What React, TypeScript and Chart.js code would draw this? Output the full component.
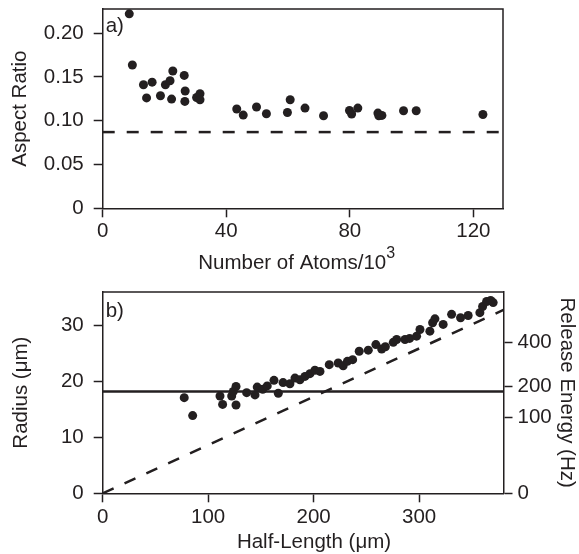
import React, { useEffect, useRef } from 'react';
import { Chart, registerables } from 'chart.js';

Chart.register(...registerables);

// ---------- data: panel a ----------
const atomsX = [8.6, 9.6, 13.2, 16.0, 14.2, 18.7, 20.3, 21.8, 22.7, 22.3, 26.4, 26.7, 26.6, 30.4, 31.5, 31.5, 43.4, 45.5, 49.8, 53.0, 59.8, 60.7, 65.5, 71.5, 79.9, 80.6, 82.6, 89.1, 90.4, 89.4, 97.4, 101.5, 123.1];
const aspectY = [0.222, 0.1636, 0.141, 0.144, 0.126, 0.1285, 0.141, 0.1456, 0.1567, 0.1247, 0.1517, 0.1339, 0.122, 0.1265, 0.1308, 0.1239, 0.1133, 0.1064, 0.1156, 0.1079, 0.1094, 0.1239, 0.1144, 0.1056, 0.1117, 0.1076, 0.1144, 0.1087, 0.106, 0.1056, 0.1113, 0.1113, 0.1071];
const aspectLimit = 0.087;
const atomsRange = [0, 129.6];
const aspectRange = [0, 0.2275];
const atomsTicks = [0, 40, 80, 120];
const aspectTicks = [0, 0.05, 0.1, 0.15, 0.2];

// ---------- data: panel b ----------
const halfLength = [77.3, 85.3, 111.2, 113.7, 122.3, 123.8, 126.4, 126.4, 136.5, 144.4, 146.5, 151.7, 156, 162.4, 166.5, 171, 177.5, 182.3, 187, 191.8, 196.5, 201.2, 206, 214.8, 223.3, 228, 232, 237, 243.2, 251.8, 259, 264.5, 268, 275.5, 278.7, 286.6, 291, 297.6, 300.8, 310.2, 312.8, 315, 322.8, 330.8, 339.3, 346.5, 357.6, 360.2, 364, 367.8, 370.2];
const radius = [17.1, 13.9, 17.4, 15.9, 17.4, 18.2, 19.1, 15.8, 18.0, 17.6, 19.0, 18.6, 19.2, 20.2, 17.9, 19.8, 19.6, 20.6, 20.3, 20.9, 21.4, 22.0, 21.8, 23.0, 23.3, 22.8, 23.6, 23.9, 25.4, 25.6, 26.6, 25.8, 26.2, 27.0, 27.5, 27.5, 27.7, 28.1, 29.3, 29.0, 30.5, 31.2, 30.2, 32.0, 31.4, 31.8, 32.3, 33.4, 34.3, 34.5, 34.1];
const solidRadius = 18.2;
const dashedLineX = [0, 380];
const dashedLineY = [0, 32.8];
const lengthRange = [0, 380];
const radiusRange = [0, 36];
const lengthTicks = [0, 100, 200, 300];
const radiusTicks = [0, 10, 20, 30];
const energyTicks = [0, 100, 200, 400];
const energyToRadius = 1.35; // radius = k * sqrt(energy)

const INK = '#231f20';
const FAMILY = '"Liberation Sans", Arial, sans-serif';
const SIZE = 20.5;

Chart.defaults.font.family = FAMILY;
Chart.defaults.font.size = SIZE;
Chart.defaults.color = INK;

function axisBase(extra: any) {
  return {
    type: 'linear',
    grid: { display: true, drawOnChartArea: false, drawTicks: true, tickLength: 9, tickWidth: 1.5, tickColor: INK, color: INK },
    border: { display: true, color: INK, width: 1.5 },
    ...extra,
  };
}

// frame edges, panel label and a bottom axis title (with optional superscript)
function decorPlugin(label: string, dy: number, drawRight: boolean, title: string, sup: string, centerX: number, baseline: number) {
  return {
    id: 'decor_' + label,
    afterDraw(chart: any) {
      const { ctx, chartArea: a } = chart;
      ctx.save();
      ctx.strokeStyle = INK;
      ctx.lineWidth = 1.5;
      ctx.beginPath();
      ctx.moveTo(a.left, a.top);
      ctx.lineTo(a.right, a.top);
      if (drawRight) ctx.lineTo(a.right, a.bottom);
      ctx.stroke();
      ctx.fillStyle = INK;
      ctx.font = `${SIZE}px ${FAMILY}`;
      ctx.textBaseline = 'alphabetic';
      ctx.textAlign = 'left';
      ctx.fillText(label, a.left + 3, a.top + dy);
      // axis title
      const mainW = ctx.measureText(title).width;
      const supFont = `16px ${FAMILY}`;
      ctx.font = supFont;
      const supW = sup ? ctx.measureText(sup).width : 0;
      const left = centerX - (mainW + supW) / 2;
      ctx.font = `${SIZE}px ${FAMILY}`;
      ctx.fillText(title, left, baseline);
      if (sup) {
        ctx.font = supFont;
        ctx.fillText(sup, left + mainW, baseline - 11);
      }
      ctx.restore();
    },
  };
}

function zeroPad(s: any) {
  s.paddingLeft = 0;
  s.paddingRight = 0;
  s.paddingTop = 0;
  s.paddingBottom = 0;
}

export default function App() {
  const topRef = useRef<HTMLCanvasElement>(null);
  const botRef = useRef<HTMLCanvasElement>(null);

  useEffect(() => {
    const top = new Chart(topRef.current as HTMLCanvasElement, {
      type: 'scatter',
      data: {
        datasets: [
          {
            data: atomsX.map((x, i) => ({ x, y: aspectY[i] })),
            pointRadius: 4.5,
            pointHoverRadius: 4.5,
            backgroundColor: INK,
            borderWidth: 0,
          },
          {
            data: atomsRange.map((x) => ({ x, y: aspectLimit })),
            showLine: true,
            borderColor: INK,
            borderWidth: 2.5,
            borderDash: [12, 12],
            pointRadius: 0,
          },
        ],
      },
      options: {
        animation: false,
        responsive: false,
        events: [],
        layout: { padding: { top: 9, right: 76, bottom: 0, left: 0 } },
        plugins: { legend: { display: false }, tooltip: { enabled: false } },
        scales: {
          x: axisBase({
            position: 'bottom',
            min: atomsRange[0],
            max: atomsRange[1],
            afterBuildTicks: (s: any) => { s.ticks = atomsTicks.map((v) => ({ value: v })); },
            ticks: { padding: 1.5, color: INK, maxRotation: 0, autoSkip: false, callback: (v: any) => String(v) },
            title: { display: false },
            afterFit: (s: any) => { s.height = 71.7; zeroPad(s); },
          }),
          y: axisBase({
            position: 'left',
            min: aspectRange[0],
            max: aspectRange[1],
            afterBuildTicks: (s: any) => { s.ticks = aspectTicks.map((v) => ({ value: v })); },
            ticks: { padding: 10, color: INK, autoSkip: false, callback: (v: any) => (v === 0 ? '0' : Number(v).toFixed(2)) },
            title: { display: true, text: 'Aspect Ratio', color: INK, padding: { top: 8.5, bottom: 0 } },
            afterFit: (s: any) => { s.width = 102.7; zeroPad(s); },
          }),
        },
      },
      plugins: [decorPlugin('a)', 22.5, true, 'Number of Atoms/10', '3', 296.7, 269)],
    } as any);

    const bot = new Chart(botRef.current as HTMLCanvasElement, {
      type: 'scatter',
      data: {
        datasets: [
          {
            data: halfLength.map((x, i) => ({ x, y: radius[i] })),
            pointRadius: 4.5,
            pointHoverRadius: 4.5,
            backgroundColor: INK,
            borderWidth: 0,
          },
          {
            data: lengthRange.map((x) => ({ x, y: solidRadius })),
            showLine: true,
            borderColor: INK,
            borderWidth: 2.5,
            pointRadius: 0,
          },
          {
            data: dashedLineX.map((x, i) => ({ x, y: dashedLineY[i] })),
            showLine: true,
            borderColor: INK,
            borderWidth: 2.5,
            borderDash: [12, 12],
            pointRadius: 0,
          },
        ],
      },
      options: {
        animation: false,
        responsive: false,
        events: [],
        layout: { padding: { top: 12, right: 0, bottom: 0, left: 0 } },
        plugins: { legend: { display: false }, tooltip: { enabled: false } },
        scales: {
          x: axisBase({
            position: 'bottom',
            min: lengthRange[0],
            max: lengthRange[1],
            afterBuildTicks: (s: any) => { s.ticks = lengthTicks.map((v) => ({ value: v })); },
            ticks: { padding: 3, color: INK, maxRotation: 0, autoSkip: false, callback: (v: any) => String(v) },
            title: { display: false },
            afterFit: (s: any) => { s.height = 60.7; zeroPad(s); },
          }),
          y: axisBase({
            position: 'left',
            min: radiusRange[0],
            max: radiusRange[1],
            afterBuildTicks: (s: any) => { s.ticks = radiusTicks.map((v) => ({ value: v })); },
            ticks: { padding: 10, color: INK, autoSkip: false, callback: (v: any) => String(v) },
            title: { display: true, text: 'Radius (μm)', color: INK, padding: { top: 9, bottom: 0 } },
            afterFit: (s: any) => { s.width = 102.7; zeroPad(s); },
          }),
          y2: axisBase({
            position: 'right',
            min: radiusRange[0],
            max: radiusRange[1],
            afterBuildTicks: (s: any) => { s.ticks = energyTicks.map((e) => ({ value: energyToRadius * Math.sqrt(e) })); },
            ticks: { padding: 5, color: INK, autoSkip: false, callback: (_v: any, i: number) => String(energyTicks[i]) },
            title: { display: true, text: 'Release Energy (Hz)', color: INK, padding: { top: 0, bottom: 0 } },
            afterFit: (s: any) => { s.width = 75.5; zeroPad(s); },
          }),
        },
      },
      plugins: [decorPlugin('b)', 25, false, 'Half-Length (μm)', '', 314, 268.3)],
    } as any);

    return () => {
      top.destroy();
      bot.destroy();
    };
  }, []);

  return (
    <div style={{ position: 'absolute', left: 0, top: 0, width: 579, height: 554, background: '#fff' }}>
      <canvas ref={topRef} width={579} height={280} style={{ position: 'absolute', left: 0, top: 0 }} />
      <canvas ref={botRef} width={579} height={274} style={{ position: 'absolute', left: 0, top: 280 }} />
    </div>
  );
}
